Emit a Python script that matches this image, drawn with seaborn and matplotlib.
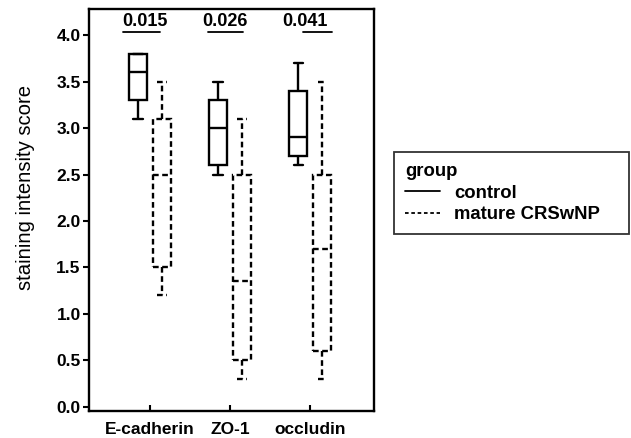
import numpy as np
import pandas as pd
import matplotlib
matplotlib.use('Agg')
import matplotlib.pyplot as plt
from matplotlib.lines import Line2D
import seaborn as sb

# five-number summaries: min, q1, median, q3, max
markers = ['E-cadherin', 'ZO-1', 'occludin']
groups = ['control', 'mature CRSwNP']
control_stats = [[3.1, 3.3, 3.6, 3.8, 3.8],
                 [2.5, 2.6, 3.0, 3.3, 3.5],
                 [2.6, 2.7, 2.9, 3.4, 3.7]]
crswnp_stats = [[1.2, 1.5, 2.5, 3.1, 3.5],
                [0.3, 0.5, 1.35, 2.5, 3.1],
                [0.3, 0.6, 1.7, 2.5, 3.5]]
p_values = ['0.015', '0.026', '0.041']
# underline extent of each p-value (relative to category position)
p_underline = [(-0.34, 0.125), (-0.275, 0.16), (-0.09, 0.275)]

rows = []
for m, cs, ms in zip(markers, control_stats, crswnp_stats):
    for v in cs:
        rows.append((m, 'control', v))
    for v in ms:
        rows.append((m, 'mature CRSwNP', v))
df = pd.DataFrame(rows, columns=['marker', 'group', 'score'])

sb.set_style('white')
plt.rcParams['font.family'] = ['Liberation Sans', 'DejaVu Sans']
plt.rcParams['text.color'] = 'black'
plt.rcParams['axes.labelcolor'] = 'black'
plt.rcParams['xtick.color'] = 'black'
plt.rcParams['ytick.color'] = 'black'

fig = plt.figure(figsize=(6.31, 4.38), dpi=100)
ax = fig.add_axes([0.141, 0.062, 0.452, 0.917])

sb.boxplot(data=df, x='marker', y='score', hue='group', order=markers,
           hue_order=groups, palette={'control': 'white', 'mature CRSwNP': 'white'},
           linecolor='black', linewidth=1.7, width=0.6, gap=0.23,
           whis=(0, 100), showfliers=False, legend=False, ax=ax)

# dashed outline for the CRSwNP boxes
dash = (0, (2.4, 1.5))
cont = ax.containers[1]
for b in cont.boxes:
    b.set_linestyle(dash)
for art in list(cont.medians) + list(cont.whiskers) + list(cont.caps):
    art.set_linestyle(dash)

ax.set_xlim(-0.7625, 2.8)
ax.set_ylim(-0.043, 4.28)
ax.set_yticks(np.arange(0, 4.01, 0.5))
ax.set_yticklabels(['%.1f' % t for t in np.arange(0, 4.01, 0.5)],
                   fontsize=12.5, fontweight='bold')
ax.set_xticks(range(len(markers)))
ax.set_xticklabels(markers, fontsize=12.5, fontweight='bold')
ax.tick_params(axis='x', bottom=True, direction='in', length=4, width=1.5, pad=8)
ax.tick_params(axis='y', left=True, direction='out', length=4, width=1.5, pad=2)
ax.set_xlabel('')
ax.set_ylabel('staining intensity score', fontsize=14.6)
ax.yaxis.set_label_coords(-0.19, 0.557)
for s in ax.spines.values():
    s.set_linewidth(1.7)
    s.set_color('black')

for i, (p, (u0, u1)) in enumerate(zip(p_values, p_underline)):
    ax.text(i - 0.0625, 4.145, p, ha='center', va='center',
            fontsize=13, fontweight='bold')
    ax.plot([i + u0, i + u1], [4.03, 4.03], color='black', lw=1.3)

handles = [Line2D([], [], color='black', lw=1.3),
           Line2D([], [], color='black', lw=1.3, linestyle=(0, (2, 1.5)))]
leg = fig.legend(handles, groups, title='group', loc='upper left',
                 bbox_to_anchor=(0.624, 0.468, 0.373, 0.185), mode='expand',
                 frameon=True, fancybox=False, edgecolor='black',
                 fontsize=13.3, title_fontsize=13.3, alignment='left',
                 handlelength=1.9, handletextpad=0.75, labelspacing=0.25,
                 borderpad=0.6, borderaxespad=0)
leg.get_frame().set_linewidth(1.3)
leg.get_title().set_fontweight('bold')
for t in leg.get_texts():
    t.set_fontweight('bold')

fig.savefig('out.png', dpi=100)
